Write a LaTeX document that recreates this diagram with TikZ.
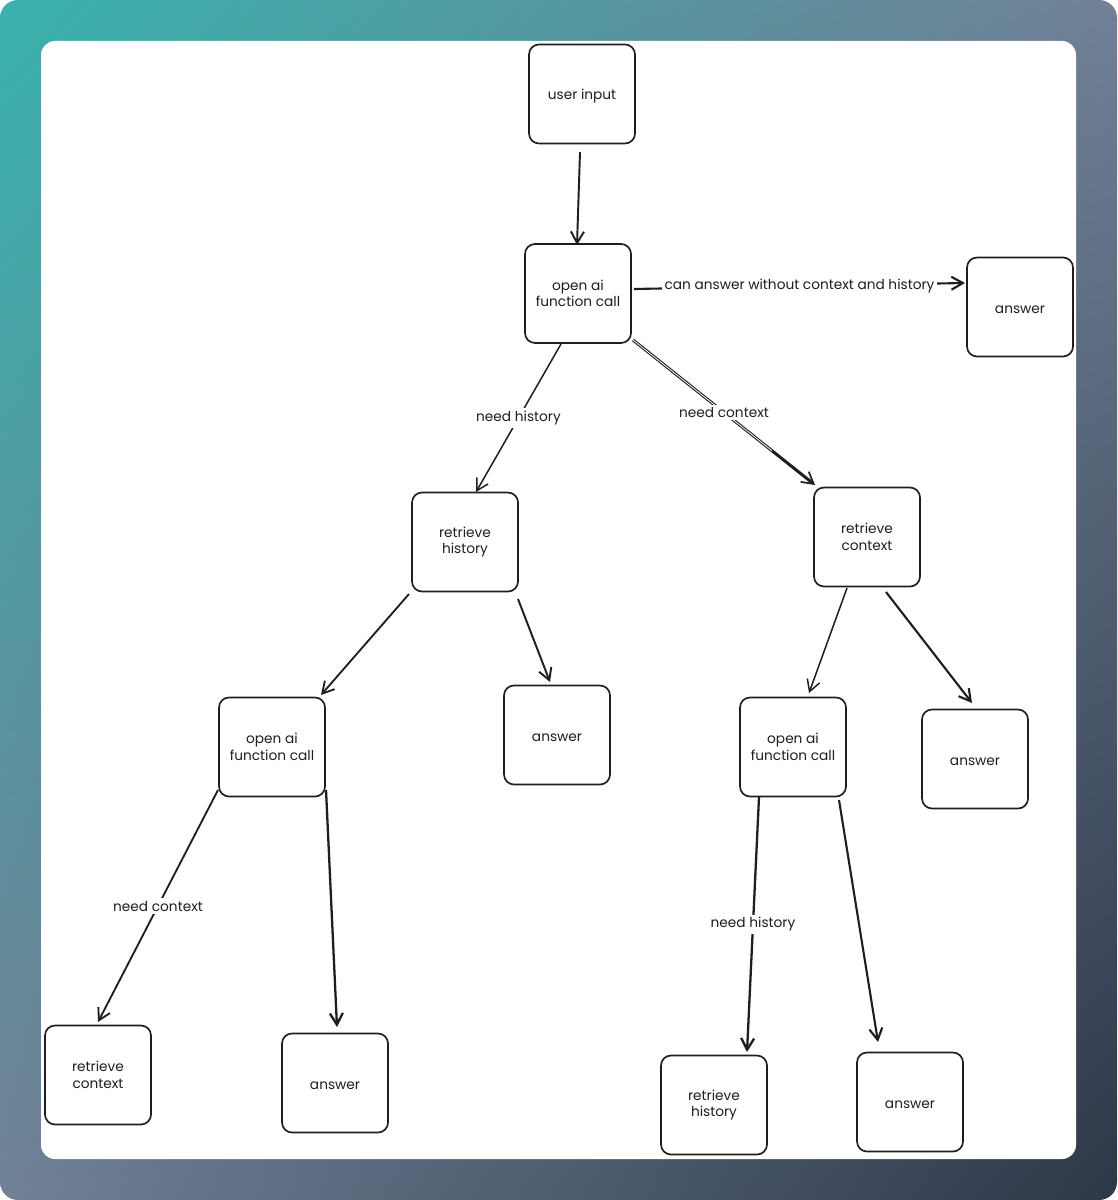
\documentclass[tikz,border=0pt]{standalone}
\usepackage{fontspec}
\setmainfont{Poppins}
\usepackage{tikz}
\usetikzlibrary{arrows.meta,positioning,shadings}
\definecolor{inkblack}{HTML}{1E1E1E}
\definecolor{bgteal}{HTML}{38B2AC}
\definecolor{bggray}{HTML}{718096}
\definecolor{bgdark}{HTML}{2D3748}
\tikzset{
    box/.style={
           rectangle,
           rounded corners=0.2cm,
           draw=inkblack,
           line width=0.95pt,
           minimum width=2.12cm,
           minimum height=1.98cm,
           inner sep=2pt,
           outer sep=0pt,
           align=center,
           text=inkblack,
           font=\fontsize{7.8}{9.4}\selectfont,
           },
    onelinebox/.style={
           box,
           text height=8pt,
           },
    edgelabel/.style={
           fill=white,
           inner sep=1.5pt,
           text=inkblack,
           font=\fontsize{7.8}{9.4}\selectfont,
           },
    twostroke/.style={
           line width=1.7pt,
           -{Straight Barb[length=2.3mm,width=2.6mm,line width=0.95pt]},
           postaction={draw=white,line width=0.45pt,-,shorten >=1.1cm},
           },
}

\begin{document}
\begin{tikzpicture}[->,>={Straight Barb[length=2.3mm,width=2.6mm]},draw=inkblack,line width=0.85pt]
 \useasboundingbox (0,-24) rectangle (22.34,0);
 \shade[draw=none,rounded corners=0.36cm,upper left=bgteal,upper right=bggray,
   lower left=bggray,lower right=bgdark] (0,-24) rectangle (22.34,0);
 \fill[white,rounded corners=0.28cm] (0.82,-23.18) rectangle (21.52,-0.82);

 \node[onelinebox] (USERINPUT) at (11.64,-1.88) {user input};

 \node[box,
 below of=USERINPUT,
 node distance=3.99cm,
 xshift=-0.08cm] (OPENAI) {open ai\\function call};

 \node[onelinebox,
 right of=OPENAI,
 node distance=8.84cm,
 yshift=-0.27cm] (ANSWERTOP) {answer};

 \node[box,
 below of=OPENAI,
 node distance=4.97cm,
 xshift=-2.26cm] (HISTORY) {retrieve\\history};

 \node[box,
 below of=OPENAI,
 node distance=4.87cm,
 xshift=5.78cm] (CONTEXT) {retrieve\\context};

 \node[box,
 below of=HISTORY,
 node distance=4.10cm,
 xshift=-3.86cm] (OPENAILEFT) {open ai\\function call};

 \node[onelinebox,
 below of=HISTORY,
 node distance=3.86cm,
 xshift=1.84cm] (ANSWERMID) {answer};

 \node[box,
 below of=CONTEXT,
 node distance=4.20cm,
 xshift=-1.48cm] (OPENAIRIGHT) {open ai\\function call};

 \node[onelinebox,
 below of=CONTEXT,
 node distance=4.44cm,
 xshift=2.16cm] (ANSWERRIGHT) {answer};

 \node[box,
 below of=OPENAILEFT,
 node distance=6.56cm,
 xshift=-3.48cm] (CONTEXTLOW) {retrieve\\context};

 \node[onelinebox,
 below of=OPENAILEFT,
 node distance=6.72cm,
 xshift=1.26cm] (ANSWERLEFT) {answer};

 \node[box,
 below of=OPENAIRIGHT,
 node distance=7.16cm,
 xshift=-1.58cm] (HISTORYLOW) {retrieve\\history};

 \node[onelinebox,
 below of=OPENAIRIGHT,
 node distance=7.10cm,
 xshift=2.34cm] (ANSWERLOW) {answer};

 \path ([shift={(-0.04,-0.17)}]USERINPUT.south) edge[line width=1.1pt]
   ([shift={(-0.02,-0.02)}]OPENAI.north)
 ;
 \path ([shift={(0.06,0.09)}]OPENAI.east) edge[line width=1.2pt] node[edgelabel]
   {
     can answer without context and history
   }([shift={(-0.04,0.48)}]ANSWERTOP.west)
 ;
 \path ([shift={(-0.34,-0.02)}]OPENAI.south) edge node[edgelabel]
   {
     need history
   }([shift={(0.22,0.01)}]HISTORY.north)
 ;
 \path ([shift={(0.04,0.06)}]OPENAI.south east) edge[twostroke] node[edgelabel]
   {
     need context
   }([shift={(0.02,0.05)}]CONTEXT.north west)
 ;
 \path ([shift={(-0.06,-0.05)}]HISTORY.south west) edge[line width=1.05pt]
   ([shift={(-0.08,0.05)}]OPENAILEFT.north east)
 ;
 \path ([shift={(0,-0.15)}]HISTORY.south east) edge[line width=1.1pt]
   ([shift={(-0.14,0.07)}]ANSWERMID.north)
 ;
 \path ([shift={(-0.40,-0.03)}]CONTEXT.south) edge
   ([shift={(0.32,0.09)}]OPENAIRIGHT.north)
 ;
 \path ([shift={(0.38,-0.11)}]CONTEXT.south) edge[line width=1.2pt]
   ([shift={(-0.06,0.13)}]ANSWERRIGHT.north)
 ;
 \path ([shift={(-0.02,0.13)}]OPENAILEFT.south west) edge[line width=1.05pt] node[edgelabel]
   {
     need context
   }([shift={(0,0.07)}]CONTEXTLOW.north)
 ;
 \path ([shift={(0.02,0.13)}]OPENAILEFT.south east) edge[line width=1.3pt]
   ([shift={(0.04,0.13)}]ANSWERLEFT.north)
 ;
 \path ([shift={(-0.68,-0.01)}]OPENAIRIGHT.south) edge[line width=1.3pt] node[edgelabel]
   {
     need history
   }([shift={(0.66,0.07)}]HISTORYLOW.north)
 ;
 \path ([shift={(0.92,-0.07)}]OPENAIRIGHT.south) edge[line width=1.2pt]
   ([shift={(-0.64,0.21)}]ANSWERLOW.north)
 ;
\end{tikzpicture}
\end{document}
